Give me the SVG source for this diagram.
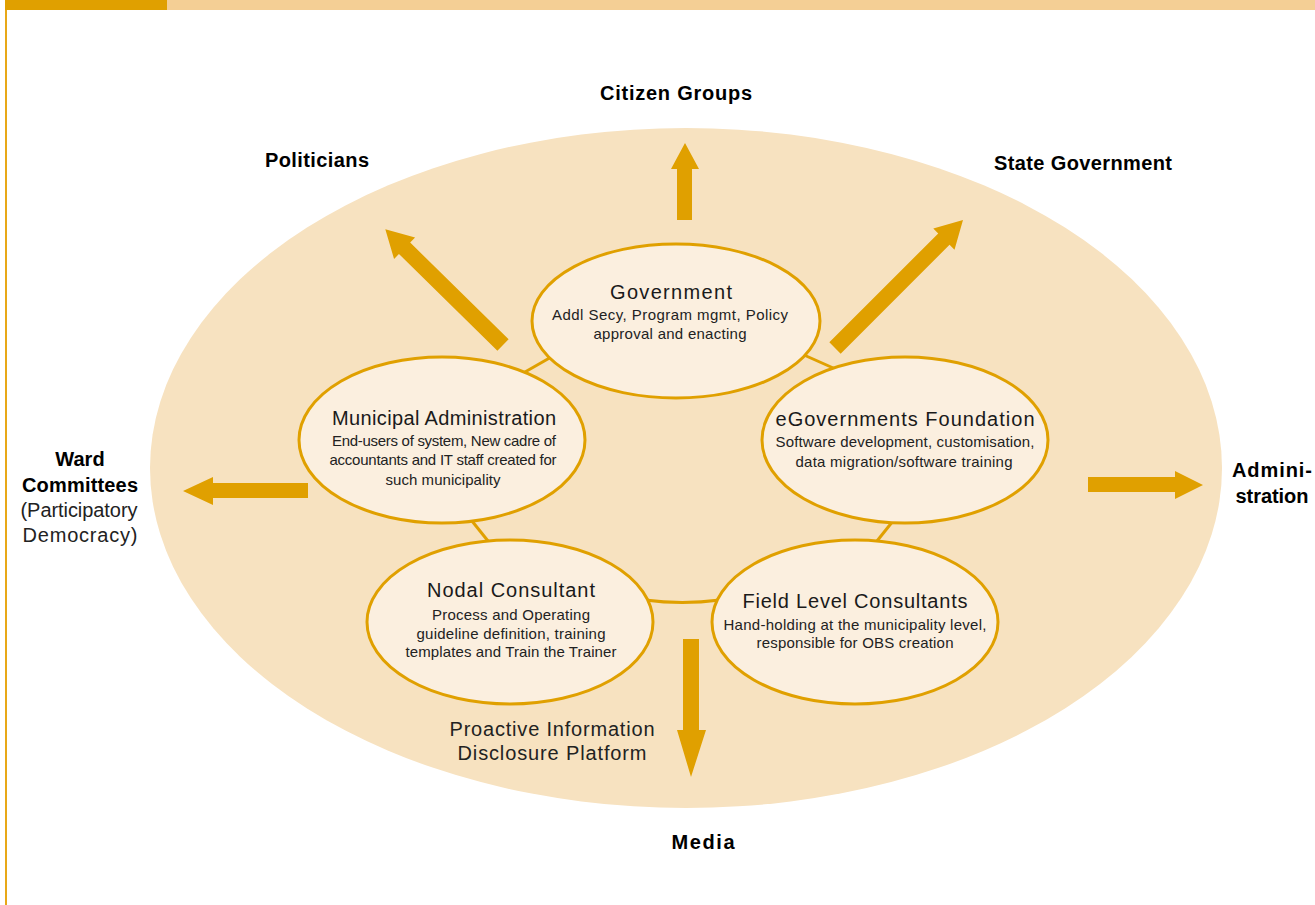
<svg xmlns="http://www.w3.org/2000/svg" width="1315" height="905" viewBox="0 0 1315 905">
<defs>
<style>
.node{fill:#FBEFDF;stroke:#E0A000;stroke-width:3}
.conn{fill:none;stroke:#E0A000;stroke-width:3}
.arrow{fill:#E0A000}
.title{font-family:"Liberation Sans",Arial,sans-serif;font-size:20px;fill:#1a1a1a;text-anchor:middle}
.sub{font-family:"Liberation Sans",Arial,sans-serif;font-size:15px;fill:#222;text-anchor:middle}
.lbl{font-family:"Liberation Sans",Arial,sans-serif;font-size:20px;font-weight:bold;fill:#000;text-anchor:middle}
.lblr{font-family:"Liberation Sans",Arial,sans-serif;font-size:20px;fill:#222;text-anchor:middle}
</style>
</defs>
<rect x="0" y="0" width="1315" height="905" fill="#fff"/>
<rect x="167" y="0" width="1148" height="10" fill="#F4CF95"/>
<rect x="5" y="0" width="162" height="10" fill="#E0A000"/>
<rect x="5" y="10" width="2" height="895" fill="#E8A818"/>

<ellipse id="background" cx="686" cy="468" rx="536" ry="340" fill="#F7E2C0"/>

<g id="connectors">
<line class="conn" x1="560" y1="352" x2="518" y2="376"/>
<line class="conn" x1="795" y1="351" x2="840" y2="371"/>
<line class="conn" x1="468" y1="516" x2="492" y2="546"/>
<line class="conn" x1="897" y1="516" x2="873" y2="546"/>
<path class="conn" d="M645,600 Q682,605 720,600"/>
</g>

<g id="arrows">
<g id="arrow-citizen"><polygon class="arrow" points="677,220 692,220 692,169 699,169 685,143 671,169 677,169"/></g>
<g id="arrow-media"><polygon class="arrow" points="683,639 699,639 699,730 706,730 691,777 677,730 683,730"/></g>
<g id="arrow-ward"><polygon class="arrow" points="308,483 308,498 213,498 213,505 183,491 213,477 213,483"/></g>
<g id="arrow-admin"><polygon class="arrow" points="1088,477 1175,477 1175,471 1203,485 1175,499 1175,492 1088,492"/></g>
<g id="arrow-politicians" transform="translate(503,345) rotate(-135.5)"><polygon class="arrow" points="0,-8 138,-8 138,-15 165,0 138,15 138,8 0,8"/></g>
<g id="arrow-state" transform="translate(835,348) rotate(-45)"><polygon class="arrow" points="0,-8 154,-8 154,-15 181,0 154,15 154,8 0,8"/></g>
</g>

<g id="node-government">
<ellipse class="node" cx="676" cy="321" rx="144" ry="77"/>
<text class="title" x="671" y="299" textLength="122" lengthAdjust="spacing">Government</text>
<text class="sub" x="670" y="320" textLength="236" lengthAdjust="spacing">Addl Secy, Program mgmt, Policy</text>
<text class="sub" x="670" y="339" textLength="153" lengthAdjust="spacing">approval and enacting</text>
</g>

<g id="node-municipal">
<ellipse class="node" cx="442" cy="440" rx="143" ry="83"/>
<text class="title" x="444" y="425" textLength="224" lengthAdjust="spacing">Municipal Administration</text>
<text class="sub" x="444" y="446" textLength="224" lengthAdjust="spacing">End-users of system, New cadre of</text>
<text class="sub" x="443" y="465" textLength="227" lengthAdjust="spacing">accountants and IT staff created for</text>
<text class="sub" x="443" y="485" textLength="115" lengthAdjust="spacing">such municipality</text>
</g>

<g id="node-egov">
<ellipse class="node" cx="905" cy="440" rx="143" ry="83"/>
<text class="title" x="905" y="426" textLength="259" lengthAdjust="spacing">eGovernments Foundation</text>
<text class="sub" x="905" y="447" textLength="259" lengthAdjust="spacing">Software development, customisation,</text>
<text class="sub" x="904" y="467" textLength="217" lengthAdjust="spacing">data migration/software training</text>
</g>

<g id="node-nodal">
<ellipse class="node" cx="510" cy="622" rx="143" ry="82"/>
<text class="title" x="511" y="597" textLength="168" lengthAdjust="spacing">Nodal Consultant</text>
<text class="sub" x="511" y="620" textLength="158" lengthAdjust="spacing">Process and Operating</text>
<text class="sub" x="511" y="639" textLength="189" lengthAdjust="spacing">guideline definition, training</text>
<text class="sub" x="511" y="657" textLength="211" lengthAdjust="spacing">templates and Train the Trainer</text>
</g>

<g id="node-field">
<ellipse class="node" cx="855" cy="622" rx="143" ry="82"/>
<text class="title" x="855" y="608" textLength="225" lengthAdjust="spacing">Field Level Consultants</text>
<text class="sub" x="855" y="630" textLength="263" lengthAdjust="spacing">Hand-holding at the municipality level,</text>
<text class="sub" x="855" y="648" textLength="197" lengthAdjust="spacing">responsible for OBS creation</text>
</g>

<g id="labels">
<text class="lbl" x="676" y="100" textLength="152" lengthAdjust="spacing">Citizen Groups</text>
<text class="lbl" x="317" y="167" textLength="104" lengthAdjust="spacing">Politicians</text>
<text class="lbl" x="1083" y="170" textLength="178" lengthAdjust="spacing">State Government</text>
<text class="lbl" x="80" y="466">Ward</text>
<text class="lbl" x="80" y="492" textLength="116" lengthAdjust="spacing">Committees</text>
<text class="lblr" x="79" y="517" textLength="117" lengthAdjust="spacing">(Participatory</text>
<text class="lblr" x="80" y="542" textLength="115" lengthAdjust="spacing">Democracy)</text>
<text class="lbl" x="1272" y="477" textLength="80" lengthAdjust="spacing">Admini-</text>
<text class="lbl" x="1272" y="503" textLength="73" lengthAdjust="spacing">stration</text>
<text class="lbl" x="703" y="849" textLength="63" lengthAdjust="spacing">Media</text>
<text class="lblr" x="552" y="736" textLength="205" lengthAdjust="spacing">Proactive Information</text>
<text class="lblr" x="552" y="760" textLength="189" lengthAdjust="spacing">Disclosure Platform</text>
</g>
</svg>
